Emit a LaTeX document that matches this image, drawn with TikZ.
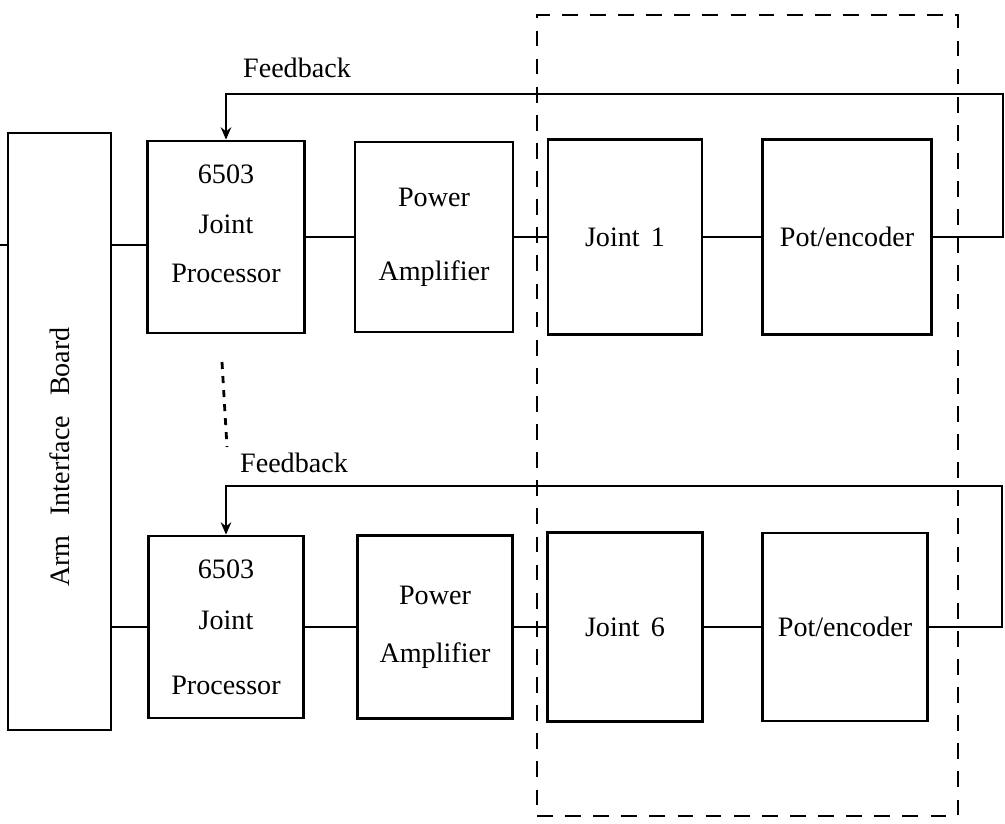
\documentclass[tikz,border=0pt]{standalone}
\usepackage{fontspec}
\setmainfont{Liberation Serif}
\usetikzlibrary{arrows.meta,positioning}

\begin{document}
\begin{tikzpicture}[x=0.02cm, y=-0.02cm,
  blk/.style={draw, line width=1.6pt, inner sep=0pt, align=center, font=\fontsize{16}{19}\selectfont},
  sz/.style 2 args={minimum width=#1*0.02cm, minimum height=#2*0.02cm},
  wire/.style={line width=1.6pt},
  fbk/.style={line width=1.6pt, -{Stealth[length=7pt,width=6pt]}},
  grp/.style={draw, line width=1.6pt, dash pattern=on 9pt off 7pt, inner sep=0pt},
  lbl/.style={font=\fontsize{16}{19}\selectfont}
]
\useasboundingbox (0,0) rectangle (1005,824);
\node[blk, sz={103}{597}] (board) at (59.5,431.5) {};
\node[lbl, rotate=90] (boardlbl) at (60,457) {Arm\hspace{0.7em}Interface\hspace{0.7em}Board};
% first joint
\node[blk, sz={157}{192}] (proc1) at (226,237) {6503\\[9pt]Joint\\[9pt]Processor\\[-4pt]};
\node[blk, sz={158}{190}] (amp1) at (434,237) {Power\\[23pt]Amplifier};
\node[blk, sz={154}{195}] (joint1) at (625,237) {Joint\hspace{0.4em}1};
\node[blk, sz={169}{195}] (pot1) at (847,237) {Pot/encoder};
\node[lbl] (fblbl1) at (297,68) {Feedback};
% sixth joint
\node[blk, sz={155}{182}] (proc2) at (226,627) {6503\\[10pt]Joint\\[18pt]Processor};
\node[blk, sz={155}{183}] (amp2) at (435,627) {Power\\[14pt]Amplifier};
\node[blk, sz={155}{189}] (joint6) at (625,627) {Joint\hspace{0.4em}6};
\node[blk, sz={165}{188}] (pot2) at (845,627) {Pot/encoder};
\node[lbl] (fblbl2) at (294,463) {Feedback};

\coordinate (inp) at (0,245);
\coordinate (fbtop1) at (1003,94);
\coordinate (fbtop2) at (1002,486);
\coordinate (gapa) at (222,362);
\coordinate (gapb) at (227,447);

\draw[wire] (inp) -- (inp -| board.west);
\draw[wire] (proc1.west |- inp) -- (board.east |- inp);
\draw[wire] (proc1) -- (amp1);
\draw[wire] (amp1) -- (joint1);
\draw[wire] (joint1) -- (pot1);
\draw[fbk] (pot1.east) -| (fbtop1) -| (proc1.north);
\draw[wire] (proc2) -- (proc2 -| board.east);
\draw[wire] (proc2) -- (amp2);
\draw[wire] (amp2) -- (joint6);
\draw[wire] (joint6) -- (pot2);
\draw[fbk] (pot2.east) -| (fbtop2) -| (proc2.north);
\draw[wire, dash pattern=on 4pt off 4pt] (gapa) -- (gapb);

\node[grp, sz={421}{801}] (arm) at (747.5,415.5) {};
\end{tikzpicture}
\end{document}
